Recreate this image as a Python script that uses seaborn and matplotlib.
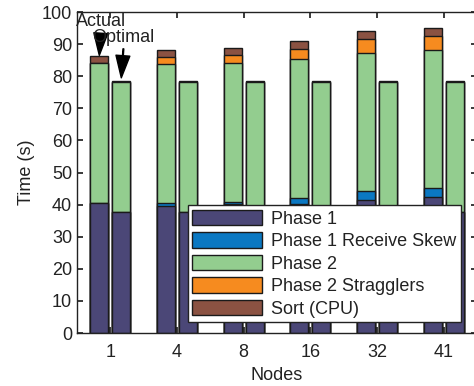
import pandas as pd
import matplotlib
matplotlib.use("Agg")
import matplotlib.pyplot as plt
from matplotlib.patches import Patch
import seaborn as sns

# ---------------------------------------------------------------
# data
# ---------------------------------------------------------------
nodes = ["1", "4", "8", "16", "32", "41"]
layers = ["Phase 1", "Phase 1 Receive Skew", "Phase 2", "Phase 2 Stragglers", "Sort (CPU)"]

actual_phase1 = [40.4, 39.7, 40.3, 40.2, 41.4, 42.3]
actual_skew = [0.0, 0.7, 0.4, 2.0, 2.8, 2.8]
actual_phase2 = [43.8, 43.4, 43.3, 43.1, 43.1, 43.1]
actual_strag = [0.0, 2.1, 2.5, 3.3, 4.2, 4.3]
actual_sort = [2.1, 2.3, 2.4, 2.5, 2.5, 2.4]

optimal_phase1 = [37.6, 37.6, 37.6, 37.6, 37.6, 37.6]
optimal_skew = [0.0, 0.0, 0.0, 0.0, 0.0, 0.0]
optimal_phase2 = [40.5, 40.5, 40.5, 40.5, 40.5, 40.5]
optimal_strag = [0.0, 0.0, 0.0, 0.0, 0.0, 0.0]
optimal_sort = [0.3, 0.3, 0.3, 0.3, 0.3, 0.3]

colors = ["#4b4777", "#0b78c2", "#93cd8f", "#f68b1f", "#8b5242"]

# ---------------------------------------------------------------
# long table with cumulative heights
# ---------------------------------------------------------------
rows = []
for kind, parts in [("Actual", [actual_phase1, actual_skew, actual_phase2, actual_strag, actual_sort]),
                    ("Optimal", [optimal_phase1, optimal_skew, optimal_phase2, optimal_strag, optimal_sort])]:
    for i, n in enumerate(nodes):
        cum = 0.0
        for layer, vals in zip(layers, parts):
            cum += vals[i]
            rows.append({"Nodes": n, "Kind": kind, "Layer": layer, "Top": cum})
df = pd.DataFrame(rows)

# ---------------------------------------------------------------
# plot
# ---------------------------------------------------------------
sns.set_theme(style="ticks")
plt.rcParams["font.family"] = ["Liberation Sans", "DejaVu Sans"]
fs = 13

fig = plt.figure(figsize=(4.74, 3.86), dpi=100)
ax = fig.add_axes([0.1624, 0.1373, 0.8436, 0.8315])

# draw from the top layer down so lower segments sit on top
for layer, col in reversed(list(zip(layers, colors))):
    sub = df[df["Layer"] == layer]
    sns.barplot(data=sub, x="Nodes", y="Top", hue="Kind", order=nodes,
                hue_order=["Actual", "Optimal"], palette=[col, col],
                width=0.66, gap=0.18, edgecolor="#1a1a1a", linewidth=1.0,
                saturation=1, legend=False, ax=ax)

ax.set_xlim(-0.5, 5.5)
ax.set_ylim(0, 100)
ax.set_yticks(range(0, 101, 10))
ax.set_xlabel("Nodes", fontsize=fs, labelpad=4, color="#222222")
ax.set_ylabel("Time (s)", fontsize=fs, labelpad=5, color="#222222")
ax.tick_params(direction="in", top=True, right=True, length=4, labelsize=fs,
               color="#222222", labelcolor="#222222")
ax.tick_params(axis="x", pad=8)
for s in ax.spines.values():
    s.set_visible(True)
    s.set_linewidth(1.0)
    s.set_color("#222222")

ax.annotate("Actual", xy=(-0.165, 86.5), xytext=(-0.14, 96.9),
            ha="center", va="center", fontsize=fs, color="#222222",
            arrowprops=dict(facecolor="black", edgecolor="black", width=0.6,
                            headwidth=10, headlength=16, shrink=0))
ax.annotate("Optimal", xy=(0.165, 79.5), xytext=(0.2, 92.2),
            ha="center", va="center", fontsize=fs, color="#222222",
            arrowprops=dict(facecolor="black", edgecolor="black", width=0.6,
                            headwidth=10, headlength=16, shrink=0))

handles = [Patch(facecolor=c, edgecolor="#1a1a1a", linewidth=1.0) for c in colors]
leg = ax.legend(handles, layers, loc="lower left", bbox_to_anchor=(0.2775, 0.034),
                fontsize=fs, frameon=True, fancybox=False, framealpha=1,
                edgecolor="#222222", handlelength=3.85, handleheight=0.95,
                labelspacing=0.25, handletextpad=0.5, borderpad=0.25,
                borderaxespad=0)
leg.get_frame().set_linewidth(1.0)
for t in leg.get_texts():
    t.set_color("#222222")

fig.savefig("out.png", dpi=100)
